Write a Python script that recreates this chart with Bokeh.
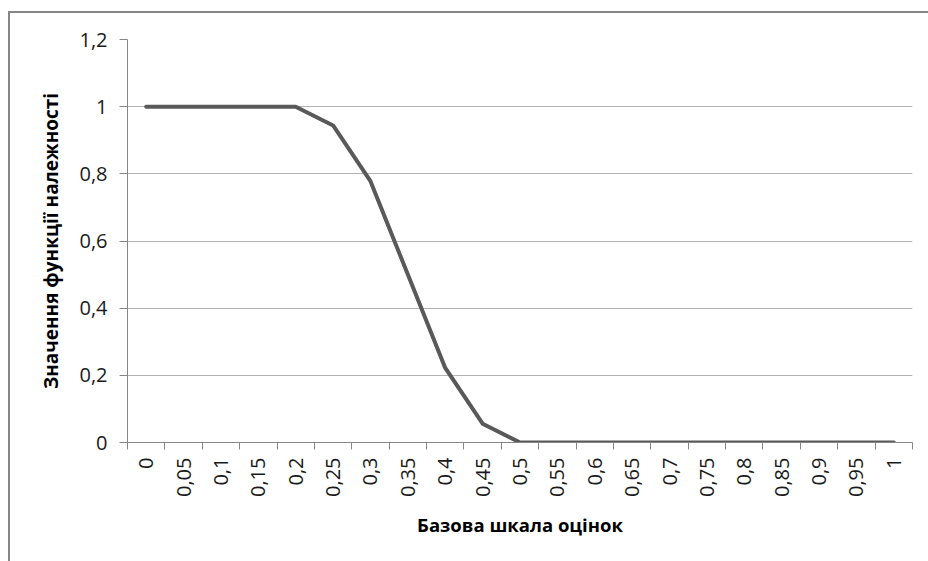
from bokeh.plotting import figure
from bokeh.models import FixedTicker, Range1d
from bokeh.embed import file_html
from bokeh.resources import INLINE
import math

# Data
x_labels = ["0", "0,05", "0,1", "0,15", "0,2", "0,25", "0,3", "0,35", "0,4", "0,45", "0,5",
            "0,55", "0,6", "0,65", "0,7", "0,75", "0,8", "0,85", "0,9", "0,95", "1"]
membership = [1, 1, 1, 1, 1, 0.944, 0.778, 0.5, 0.222, 0.056, 0,
              0, 0, 0, 0, 0, 0, 0, 0, 0, 0]
y_ticks = [0, 0.2, 0.4, 0.6, 0.8, 1, 1.2]
y_tick_labels = ["0", "0,2", "0,4", "0,6", "0,8", "1", "1,2"]
x_title = "Базова шкала оцінок"
y_title = "Значення функції належності"

n = len(x_labels)
xs = list(range(n))

FONT = "Open Sans"

p = figure(width=928, height=561, output_backend="svg", toolbar_location=None,
           x_range=Range1d(-0.5, n - 0.5), y_range=Range1d(0, 1.2),
           min_border_left=127, min_border_right=16, min_border_top=39, min_border_bottom=119)
p.background_fill_color = "white"
p.border_fill_color = None
p.outline_line_color = None
p.styles = {
    "background": "linear-gradient(#868686, #868686) 8px 11px / 2px 2000px no-repeat, "
                  "linear-gradient(#868686, #868686) 8px 11px / 2000px 2px no-repeat, white"
}

p.line(xs, membership, line_color="#595959", line_width=4, line_join="round", line_cap="round")

# X axis
p.xaxis.ticker = FixedTicker(ticks=xs, minor_ticks=[i - 0.5 for i in range(n + 1)])
p.xaxis.major_label_overrides = {i: lab for i, lab in enumerate(x_labels)}
p.xaxis.major_label_orientation = math.pi / 2
p.xaxis.major_tick_out = 0
p.xaxis.major_tick_in = 0
p.xaxis.minor_tick_out = 7
p.xaxis.minor_tick_in = 0
p.xaxis.minor_tick_line_color = "#868686"
p.xaxis.axis_line_color = "#868686"
p.xaxis.major_label_standoff = 8
p.xaxis.major_label_text_font = FONT
p.xaxis.major_label_text_font_size = "20px"
p.xaxis.major_label_text_color = "#1a1a1a"
p.xaxis.axis_label = x_title
p.xaxis.axis_label_text_font = FONT
p.xaxis.axis_label_text_font_style = "bold"
p.xaxis.axis_label_text_font_size = "18.5px"
p.xaxis.axis_label_text_color = "#000000"
p.xaxis.axis_label_standoff = 12

# Y axis
p.yaxis.ticker = FixedTicker(ticks=y_ticks)
p.yaxis.major_label_overrides = {t: lab for t, lab in zip(y_ticks, y_tick_labels)}
p.yaxis.major_tick_out = 8
p.yaxis.major_tick_in = 0
p.yaxis.minor_tick_line_color = None
p.yaxis.major_tick_line_color = "#868686"
p.yaxis.axis_line_color = "#868686"
p.yaxis.major_label_standoff = 12
p.yaxis.major_label_text_font = FONT
p.yaxis.major_label_text_font_size = "20px"
p.yaxis.major_label_text_color = "#1a1a1a"
p.yaxis.axis_label = y_title
p.yaxis.axis_label_text_font = FONT
p.yaxis.axis_label_text_font_style = "bold"
p.yaxis.axis_label_text_font_size = "19px"
p.yaxis.axis_label_text_color = "#000000"
p.yaxis.axis_label_standoff = 12

p.xgrid.grid_line_color = None
p.ygrid.ticker = FixedTicker(ticks=y_ticks)
p.ygrid.grid_line_color = "#b3b3b3"
p.ygrid.grid_line_width = 1

open("out.html", "w").write(file_html(p, INLINE))
